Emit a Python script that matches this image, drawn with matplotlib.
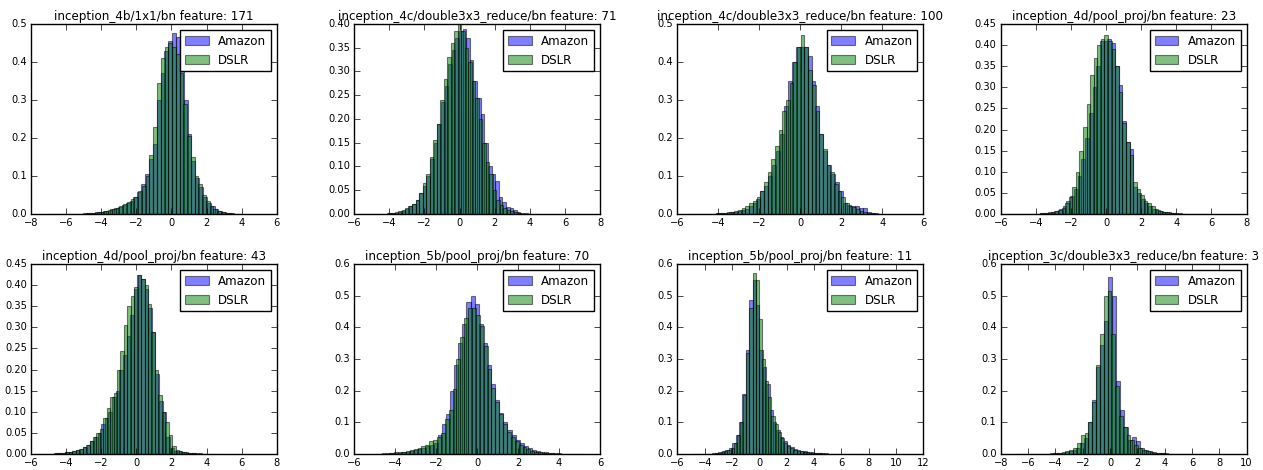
import numpy as np
import matplotlib
matplotlib.use("Agg")
import matplotlib.pyplot as plt

# ---------------- data (bin heights, density-normalised, 50 bins) ----------------
titles = [
    "inception_4b/1x1/bn feature: 171",
    "inception_4c/double3x3_reduce/bn feature: 71",
    "inception_4c/double3x3_reduce/bn feature: 100",
    "inception_4d/pool_proj/bn feature: 23",
    "inception_4d/pool_proj/bn feature: 43",
    "inception_5b/pool_proj/bn feature: 70",
    "inception_5b/pool_proj/bn feature: 11",
    "inception_3c/double3x3_reduce/bn feature: 3",
]
series_labels = ["Amazon", "DSLR"]

xlims = [(-8, 6), (-6, 8), (-6, 6), (-6, 8), (-6, 8), (-6, 6), (-6, 12), (-8, 10)]
ylims = [0.5, 0.40, 0.5, 0.45, 0.45, 0.6, 0.6, 0.6]

# data ranges (min, max) of each series
amazon_ranges = [(-7.0, 4.0), (-5.8, 4.5), (-5.6, 4.0), (-4.8, 5.8),
                 (-5.5, 4.8), (-4.72, 5.28), (-5.0, 7.5), (-7.095, 7.405)]
dslr_ranges = [(-6.6, 4.1), (-6.1, 3.9), (-5.2, 3.8), (-5.6, 4.6),
               (-5.8, 4.0), (-5.0, 4.5), (-4.64, 6.86), (-6.9, 7.1)]

amazon_171 = [0.0005, 0, 0.0005, 0, 0.0005, 0.0005, 0.001, 0.001, 0.001, 0.002,
              0.002, 0.003, 0.004, 0.005, 0.007, 0.009, 0.012, 0.015, 0.019, 0.024,
              0.029, 0.035, 0.044, 0.058, 0.08, 0.105, 0.145, 0.185, 0.30, 0.37,
              0.43, 0.455, 0.475, 0.465, 0.40, 0.30, 0.21, 0.14, 0.095, 0.07,
              0.045, 0.03, 0.02, 0.012, 0.007, 0.004, 0.002, 0.0015, 0.001, 0.0005]
dslr_171 = [0.0005, 0, 0, 0.0005, 0.0005, 0.001, 0.001, 0.001, 0.002, 0.002,
            0.003, 0.004, 0.005, 0.007, 0.01, 0.013, 0.017, 0.021, 0.027, 0.032,
            0.04, 0.045, 0.06, 0.075, 0.10, 0.155, 0.23, 0.345, 0.41, 0.44,
            0.45, 0.44, 0.42, 0.37, 0.29, 0.205, 0.15, 0.10, 0.08, 0.05,
            0.033, 0.022, 0.013, 0.008, 0.005, 0.003, 0.002, 0.001, 0.0005, 0.0005]

amazon_71 = [0.0005, 0, 0.0005, 0, 0.0005, 0.0005, 0.001, 0.001, 0.002, 0.002,
             0.003, 0.005, 0.007, 0.011, 0.016, 0.022, 0.03, 0.045, 0.06, 0.08,
             0.115, 0.15, 0.19, 0.235, 0.27, 0.315, 0.345, 0.37, 0.385, 0.39,
             0.37, 0.325, 0.28, 0.245, 0.21, 0.15, 0.10, 0.085, 0.07, 0.035,
             0.026, 0.015, 0.012, 0.008, 0.005, 0.003, 0.002, 0.001, 0.0005, 0.0005]
dslr_71 = [0.0005, 0, 0, 0.0005, 0, 0.0005, 0.0005, 0.001, 0.001, 0.001,
           0.002, 0.003, 0.004, 0.006, 0.008, 0.012, 0.017, 0.022, 0.03, 0.045,
           0.065, 0.085, 0.12, 0.155, 0.19, 0.24, 0.285, 0.33, 0.36, 0.385,
           0.40, 0.385, 0.35, 0.32, 0.28, 0.245, 0.20, 0.15, 0.11, 0.085,
           0.05, 0.03, 0.02, 0.013, 0.009, 0.006, 0.004, 0.002, 0.001, 0.0005]

amazon_100 = [0.0005, 0.0005, 0, 0.0005, 0.0005, 0.001, 0.001, 0.001, 0.002, 0.002,
              0.003, 0.004, 0.006, 0.009, 0.011, 0.013, 0.02, 0.03, 0.04, 0.06,
              0.075, 0.10, 0.13, 0.165, 0.21, 0.285, 0.35, 0.40, 0.44, 0.44,
              0.44, 0.415, 0.35, 0.285, 0.21, 0.165, 0.13, 0.105, 0.085, 0.06,
              0.03, 0.025, 0.02, 0.02, 0.015, 0.015, 0.006, 0.003, 0.002, 0.001]
dslr_100 = [0.0005, 0, 0.0005, 0.0005, 0.001, 0.001, 0.002, 0.002, 0.003, 0.004,
            0.006, 0.008, 0.011, 0.015, 0.02, 0.028, 0.035, 0.045, 0.06, 0.085,
            0.11, 0.145, 0.18, 0.22, 0.27, 0.30, 0.345, 0.40, 0.44, 0.47,
            0.44, 0.38, 0.34, 0.27, 0.21, 0.17, 0.13, 0.11, 0.08, 0.06,
            0.045, 0.03, 0.022, 0.018, 0.012, 0.008, 0.005, 0.003, 0.002, 0.001]

amazon_23 = [0.0005, 0.0005, 0.0005, 0.001, 0.001, 0.002, 0.003, 0.004, 0.005, 0.008,
             0.012, 0.018, 0.03, 0.042, 0.06, 0.09, 0.13, 0.18, 0.24, 0.30,
             0.35, 0.41, 0.41, 0.415, 0.405, 0.35, 0.305, 0.22, 0.17, 0.155,
             0.065, 0.05, 0.035, 0.025, 0.018, 0.012, 0.009, 0.007, 0.005, 0.004,
             0.003, 0.002, 0.0015, 0.001, 0.001, 0.0005, 0.0005, 0, 0.0005, 0.0005]
dslr_23 = [0.0005, 0, 0.0005, 0, 0.0005, 0.0005, 0.001, 0.001, 0.001, 0.002,
           0.002, 0.003, 0.005, 0.007, 0.01, 0.015, 0.025, 0.04, 0.065, 0.10,
           0.15, 0.205, 0.26, 0.33, 0.37, 0.40, 0.415, 0.425, 0.41, 0.39,
           0.35, 0.29, 0.215, 0.17, 0.14, 0.075, 0.06, 0.045, 0.03, 0.025,
           0.02, 0.012, 0.008, 0.005, 0.004, 0.003, 0.002, 0.001, 0.0005, 0.0005]

amazon_43 = [0.0005, 0.0005, 0.001, 0.001, 0.0015, 0.002, 0.003, 0.004, 0.005, 0.007,
             0.009, 0.012, 0.016, 0.022, 0.03, 0.04, 0.05, 0.07, 0.085, 0.10,
             0.135, 0.15, 0.20, 0.235, 0.28, 0.33, 0.39, 0.425, 0.415, 0.39,
             0.345, 0.29, 0.19, 0.125, 0.10, 0.04, 0.015, 0.008, 0.006, 0.005,
             0.004, 0.003, 0.003, 0.002, 0.002, 0.001, 0.001, 0.001, 0.0005, 0.0005]
dslr_43 = [0.0005, 0.0005, 0.0005, 0.001, 0.001, 0.001, 0.002, 0.0025, 0.003, 0.004,
           0.005, 0.007, 0.01, 0.012, 0.016, 0.022, 0.03, 0.04, 0.05, 0.06,
           0.085, 0.11, 0.135, 0.145, 0.20, 0.245, 0.305, 0.35, 0.375, 0.395,
           0.425, 0.415, 0.40, 0.355, 0.29, 0.20, 0.14, 0.10, 0.075, 0.045,
           0.02, 0.01, 0.006, 0.004, 0.003, 0.002, 0.002, 0.001, 0.0005, 0.0005]

amazon_70 = [0.0005, 0.001, 0.002, 0.003, 0.004, 0.005, 0.007, 0.009, 0.012, 0.015,
             0.02, 0.025, 0.03, 0.035, 0.06, 0.095, 0.125, 0.20, 0.28, 0.35,
             0.41, 0.48, 0.50, 0.475, 0.41, 0.35, 0.28, 0.22, 0.17, 0.13,
             0.10, 0.075, 0.06, 0.045, 0.035, 0.025, 0.018, 0.013, 0.01, 0.007,
             0.005, 0.004, 0.003, 0.002, 0.0015, 0.001, 0.001, 0.0005, 0, 0.0005]
dslr_70 = [0.0005, 0.001, 0.002, 0.002, 0.004, 0.005, 0.006, 0.007, 0.01, 0.012,
           0.015, 0.02, 0.025, 0.03, 0.04, 0.045, 0.055, 0.065, 0.11, 0.14,
           0.205, 0.30, 0.37, 0.43, 0.46, 0.46, 0.44, 0.405, 0.34, 0.27,
           0.21, 0.165, 0.125, 0.095, 0.07, 0.055, 0.04, 0.03, 0.022, 0.015,
           0.01, 0.007, 0.005, 0.004, 0.003, 0.002, 0.001, 0.001, 0.0005, 0.0005]

amazon_11 = [0.0005, 0.0005, 0.0005, 0.001, 0.001, 0.0015, 0.002, 0.003, 0.005, 0.008,
             0.012, 0.02, 0.035, 0.06, 0.10, 0.19, 0.33, 0.485, 0.55, 0.47,
             0.33, 0.275, 0.22, 0.14, 0.10, 0.075, 0.055, 0.04, 0.03, 0.022,
             0.016, 0.012, 0.01, 0.008, 0.006, 0.005, 0.004, 0.003, 0.002, 0.002,
             0.0015, 0.001, 0.001, 0.0005, 0.0005, 0.0005, 0.0005, 0, 0, 0.0005]
dslr_11 = [0.0005, 0.0005, 0.0005, 0.001, 0.001, 0.0015, 0.002, 0.003, 0.005, 0.008,
           0.012, 0.02, 0.035, 0.06, 0.10, 0.185, 0.32, 0.46, 0.57, 0.55,
           0.425, 0.30, 0.23, 0.18, 0.12, 0.095, 0.07, 0.05, 0.035, 0.025,
           0.018, 0.013, 0.01, 0.008, 0.006, 0.005, 0.004, 0.003, 0.002, 0.002,
           0.001, 0.001, 0.001, 0.0005, 0.0005, 0.0005, 0, 0.0005, 0, 0.0005]

amazon_3 = [0.0005, 0, 0, 0.0005, 0.0005, 0.0005, 0.0005, 0.001, 0.001, 0.0015,
            0.002, 0.003, 0.004, 0.006, 0.008, 0.013, 0.02, 0.035, 0.05, 0.10,
            0.17, 0.275, 0.345, 0.42, 0.56, 0.50, 0.23, 0.14, 0.085, 0.045,
            0.055, 0.04, 0.02, 0.012, 0.008, 0.005, 0.004, 0.003, 0.002, 0.0015,
            0.001, 0.001, 0.0005, 0.0005, 0.0005, 0, 0.0005, 0, 0, 0.0005]
dslr_3 = [0.0005, 0.0005, 0, 0.0005, 0.0005, 0.0005, 0.001, 0.001, 0.0015, 0.002,
          0.003, 0.004, 0.005, 0.008, 0.012, 0.02, 0.035, 0.06, 0.065, 0.10,
          0.165, 0.28, 0.38, 0.50, 0.515, 0.38, 0.215, 0.12, 0.085, 0.06,
          0.045, 0.03, 0.02, 0.012, 0.008, 0.005, 0.004, 0.003, 0.002, 0.0015,
          0.001, 0.001, 0.0005, 0.0005, 0.0005, 0, 0, 0.0005, 0, 0.0005]

amazon_heights = [amazon_171, amazon_71, amazon_100, amazon_23,
                  amazon_43, amazon_70, amazon_11, amazon_3]
dslr_heights = [dslr_171, dslr_71, dslr_100, dslr_23,
                dslr_43, dslr_70, dslr_11, dslr_3]

# ---------------- style ----------------
plt.style.use("classic")
plt.rcParams.update({
    "font.family": ["DejaVu Sans"],
    "font.size": 7.1,
    "figure.facecolor": "white",
    "savefig.facecolor": "white",
    "axes.titlepad": 3.0,
    "xtick.major.pad": 3.0,
    "ytick.major.pad": 3.0,
})

fig, axes = plt.subplots(2, 4, figsize=(12.63, 4.70), dpi=100)
fig.subplots_adjust(left=0.0245, right=0.987, top=0.949, bottom=0.034,
                    wspace=0.315, hspace=0.263)

for i, ax in enumerate(axes.flat):
    for heights, rng, col, lab in ((amazon_heights[i], amazon_ranges[i], "b", series_labels[0]),
                                   (dslr_heights[i], dslr_ranges[i], "g", series_labels[1])):
        edges = np.linspace(rng[0], rng[1], len(heights) + 1)
        ax.hist(edges[:-1], bins=edges, weights=heights, color=col, alpha=0.5,
                edgecolor="k", linewidth=0.8, label=lab)
    ax.set_xlim(*xlims[i])
    ax.set_ylim(0, ylims[i])
    ax.set_title(titles[i])
    ax.legend(loc="upper right")

fig.savefig("out.png", dpi=100)
